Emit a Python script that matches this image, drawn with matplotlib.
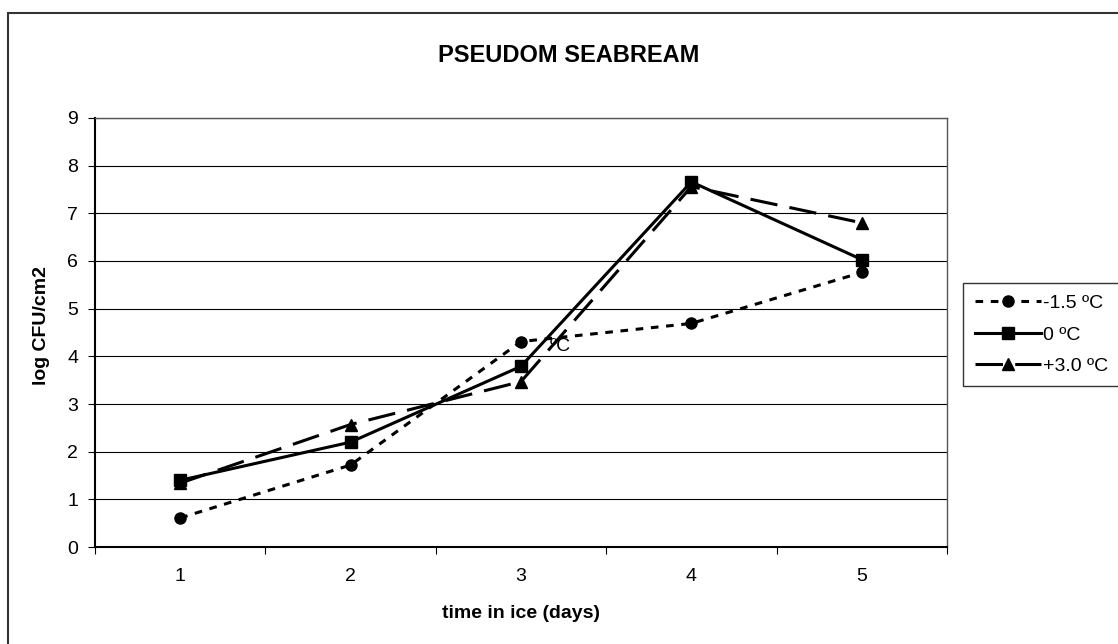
import matplotlib.pyplot as plt
from matplotlib.patches import Rectangle

plt.rcParams['font.family'] = ['Liberation Sans', 'DejaVu Sans']

days = [1, 2, 3, 4, 5]
minus15 = [0.61, 1.72, 4.31, 4.69, 5.76]
zero = [1.40, 2.20, 3.79, 7.66, 6.03]
plus30 = [1.34, 2.57, 3.47, 7.56, 6.80]
labels = ['-1.5 ºC', '0 ºC', '+3.0 ºC']

fig = plt.figure(figsize=(11.18, 6.44), dpi=100)
ax = fig.add_axes([0.085, 0.1506, 0.762, 0.6662])

# outer chart border (only top/left visible in the original)
fig.patches.append(Rectangle((8 / 1118, -0.1), 1.2, 1 - 13 / 644 + 0.1,
                             transform=fig.transFigure, fill=False,
                             edgecolor='#333333', linewidth=1.5))

ax.plot(days, minus15, color='black', lw=2.2, dashes=(2.5, 2.5),
        marker='o', ms=8, label=labels[0])
ax.plot(days, zero, color='black', lw=2.2, linestyle='-',
        marker='s', ms=8, label=labels[1])
ax.plot(days, plus30, color='black', lw=2.2, dashes=(9, 4),
        marker='^', ms=9, label=labels[2])

ax.text(3.17, 4.21, 'ºC', fontsize=14, va='center', ha='left')

ax.set_xlim(0.5, 5.5)
ax.set_ylim(0, 9)
ax.set_xticks([0.5, 1.5, 2.5, 3.5, 4.5, 5.5])
ax.set_xticklabels([])
ax.set_xticks(days, minor=True)
ax.set_xticklabels([str(d) for d in days], minor=True)
ax.tick_params(axis='x', which='minor', length=0, pad=15, labelsize=14)
ax.tick_params(axis='x', which='major', length=5, direction='out')
ax.set_yticks(range(0, 10))
ax.tick_params(axis='y', length=5, labelsize=14, pad=7)

ax.yaxis.grid(True, color='black', lw=0.8)
ax.set_axisbelow(True)
for s in ['left', 'bottom']:
    ax.spines[s].set_linewidth(1.5)
for s in ['top', 'right']:
    ax.spines[s].set_color('#555555')
    ax.spines[s].set_linewidth(1)

fig.text(569 / 1118, 1 - 55 / 644, 'PSEUDOM SEABREAM', fontsize=17,
         fontweight='bold', ha='center', va='center')
fig.text(521 / 1118, 1 - 614 / 644, 'time in ice (days)', fontsize=14,
         fontweight='bold', ha='center', va='center')
fig.text(42 / 1118, 1 - 326 / 644, 'log CFU/cm2', fontsize=14,
         fontweight='bold', ha='center', va='center', rotation=90)

leg = fig.legend(loc='upper left', bbox_to_anchor=(963 / 1118, 1 - 283 / 644),
                 fontsize=14, handlelength=3.4, frameon=True, fancybox=False,
                 borderpad=0.6, labelspacing=0.7, handletextpad=0.1,
                 borderaxespad=0)
leg.get_frame().set_edgecolor('black')
leg.get_frame().set_linewidth(1)

fig.savefig('out.png', dpi=100)
